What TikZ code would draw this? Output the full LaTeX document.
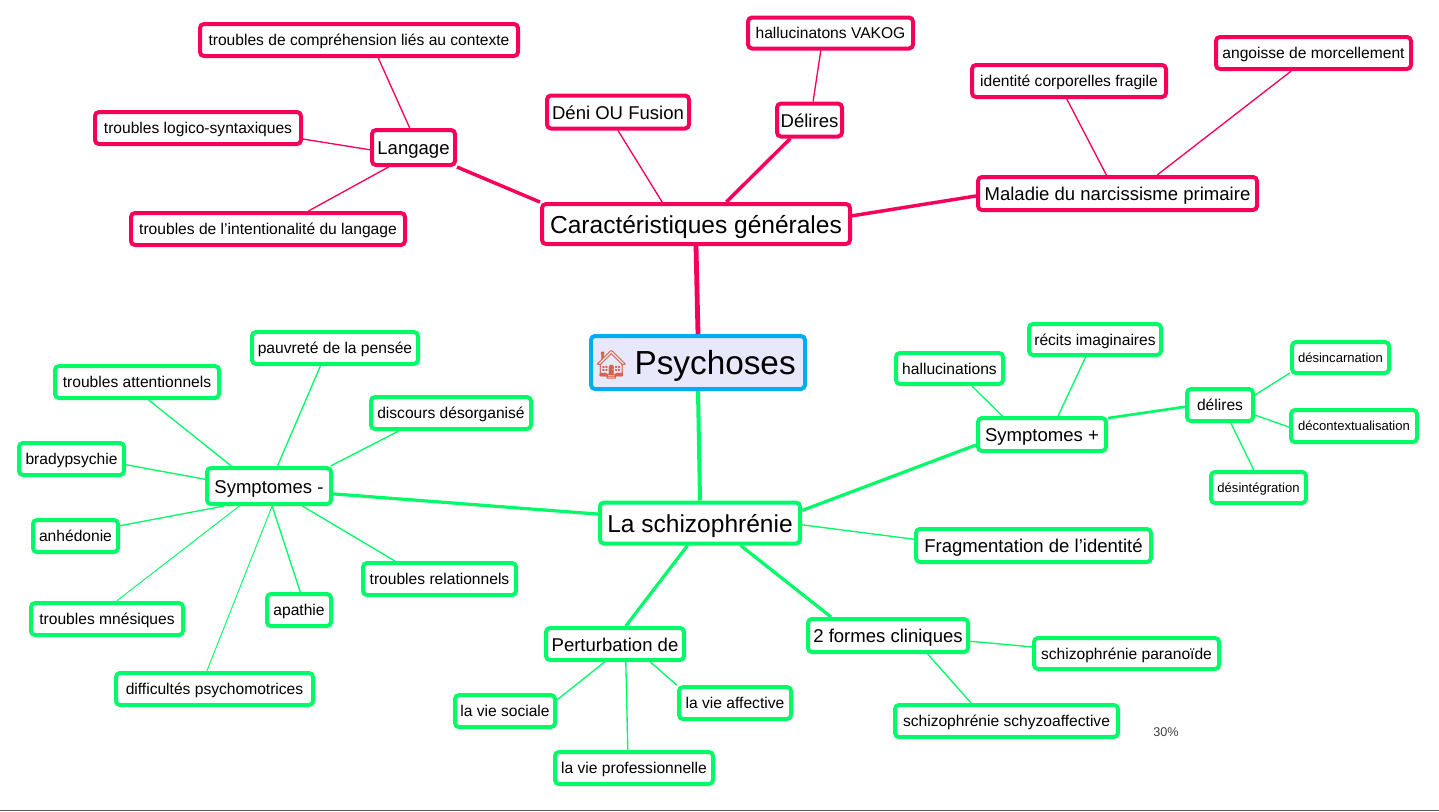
\documentclass[tikz,border=0pt]{standalone}
\usepackage{fontspec}
\setmainfont{Liberation Sans}
\newfontfamily\emojifont{Noto Emoji}
\definecolor{mapred}{HTML}{F7005C}
\definecolor{mapgreen}{HTML}{00FA68}
\definecolor{mapblue}{HTML}{00AEEF}
\definecolor{rootfill}{HTML}{E8E8FB}
\definecolor{houseroof}{HTML}{D9604C}
\tikzset{
  sized/.style 2 args={minimum width=(#1-2)*0.75pt, minimum height=(#2-2)*0.75pt},
  mapbox/.style={draw, line width=3pt, rounded corners=3pt, inner sep=0pt, text=black, font=\fontsize{11.7}{14}\selectfont, text height=9.9pt, text depth=1.2pt},
  redbox/.style={mapbox, draw=mapred},
  greenbox/.style={mapbox, draw=mapgreen},
  midtext/.style={font=\fontsize{13.9}{17}\selectfont, text height=12pt, text depth=1.4pt},
  bigtext/.style={font=\fontsize{18.4}{22}\selectfont, text height=15.6pt, text depth=1.8pt},
  tinytext/.style={font=\fontsize{9.8}{12}\selectfont, text height=8.3pt, text depth=1pt},
  thinred/.style={mapred, line width=1pt},
  midred/.style={mapred, line width=2.6pt},
  thingreen/.style={mapgreen, line width=1pt},
  midgreen/.style={mapgreen, line width=2.4pt},
}
\begin{document}
\begin{tikzpicture}[x=0.75pt, y=-0.75pt]
    \useasboundingbox (0,0) rectangle (1439,811);

    % Root of the map
    \node[mapbox, draw=mapblue, fill=rootfill, sized={216}{55}, font=\fontsize{25}{30}\selectfont, text height=21pt, text depth=2.5pt] (psy) at (698,362.5) {{\emojifont\fontsize{21}{25}\selectfont\textcolor{houseroof}{\symbol{"1F3E0}}}\kern4pt Psychoses\kern5pt};

    % Upper branch (red)
    \node[redbox, sized={310}{42}, bigtext] (cara) at (696,224) {Caractéristiques générales};
    \node[redbox, sized={85}{37}, midtext] (lang) at (413.5,147.5) {Langage};
    \node[redbox, sized={320}{34}] (comp) at (359,40) {troubles de compréhension liés au contexte};
    \node[redbox, sized={208}{34}] (logi) at (198,128) {troubles logico-syntaxiques};
    \node[redbox, sized={276}{34}] (inte) at (268,229) {troubles de l’intentionalité du langage};
    \node[redbox, sized={144}{35}, midtext] (deni) at (618,112) {Déni OU Fusion};
    \node[redbox, sized={67}{35}, midtext] (deli) at (809.5,120) {Délires};
    \node[redbox, sized={167}{33}] (vako) at (830.5,33) {hallucinatons VAKOG};
    \node[redbox, sized={281}{35}, midtext] (narc) at (1117.5,193.5) {Maladie du narcissisme primaire};
    \node[redbox, sized={196}{34}] (iden) at (1069,81) {identité corporelles fragile};
    \node[redbox, sized={197}{34}] (ango) at (1313.5,53) {angoisse de morcellement};

    % Lower branch (green)
    \node[greenbox, sized={202}{43}, bigtext] (schi) at (700,523) {La schizophrénie};
    \node[greenbox, sized={126}{38}, midtext] (sneg) at (269,486) {Symptomes -};
    \node[greenbox, sized={130}{35}, midtext] (spos) at (1042,434.5) {Symptomes +};
    \node[greenbox, sized={68}{34}] (dgre) at (1220,405) {délires};
    \node[greenbox, sized={134}{33}] (reci) at (1095,339.5) {récits imaginaires};
    \node[greenbox, sized={109}{33}] (hall) at (949.5,368.5) {hallucinations};
    \node[greenbox, sized={99}{33}, tinytext] (dinc) at (1340.5,357.5) {désincarnation};
    \node[greenbox, sized={128}{34}, tinytext] (dcon) at (1354,426) {décontextualisation};
    \node[greenbox, sized={97}{33}, tinytext] (dint) at (1258.5,487.5) {désintégration};
    \node[greenbox, sized={237}{35}, midtext] (frag) at (1033.5,545.5) {Fragmentation de l’identité};
    \node[greenbox, sized={162}{35}, midtext] (form) at (888,635.5) {2 formes cliniques};
    \node[greenbox, sized={187}{33}] (para) at (1126.5,653.5) {schizophrénie paranoïde};
    \node[greenbox, sized={225}{34}] (schy) at (1006.5,721) {schizophrénie schyzoaffective};
    \node[greenbox, sized={140}{34}, midtext] (pert) at (615,644) {Perturbation de};
    \node[greenbox, sized={102}{34}] (soci) at (505,711) {la vie sociale};
    \node[greenbox, sized={114}{34}] (affe) at (735,703) {la vie affective};
    \node[greenbox, sized={160}{34}] (prof) at (634,768) {la vie professionnelle};
    \node[greenbox, sized={168}{34}] (pauv) at (335,348) {pauvreté de la pensée};
    \node[greenbox, sized={166}{34}] (atte) at (137,382) {troubles attentionnels};
    \node[greenbox, sized={162}{34}] (disc) at (451,413) {discours désorganisé};
    \node[greenbox, sized={107}{34}] (brad) at (71.5,459) {bradypsychie};
    \node[greenbox, sized={87}{34}] (anhe) at (75.5,536) {anhédonie};
    \node[greenbox, sized={154}{34}] (mnes) at (107,619) {troubles mnésiques};
    \node[greenbox, sized={199}{34}] (diff) at (214.5,689) {difficultés psychomotrices};
    \node[greenbox, sized={66}{34}] (apat) at (299,610) {apathie};
    \node[greenbox, sized={155}{34}] (rela) at (439.5,579) {troubles relationnels};

    % Percentage note
    \node[text=black!75, font=\fontsize{9.5}{12}\selectfont] (note) at (1166,732) {30\%};

    % Red connectors
    \draw[mapred, line width=3.6pt] (cara.south) -- (psy.north);
    \draw[midred] (cara.172) -- (lang.south east);
    \draw[thinred] (lang.101) -- (comp.-43);
    \draw[thinred] (lang.183) -- (logi.-6.6);
    \draw[thinred] (lang.218) -- (inte.24.7);
    \draw[thinred] (cara.147.5) -- (deni.south);
    \draw[midred] (cara.36) -- (deli.-136);
    \draw[thinred] (deli.79) -- (vako.-119.5);
    \draw[midred] (cara.3.3) -- (narc.181.4);
    \draw[thinred] (narc.121) -- (iden.-97);
    \draw[thinred] (narc.25) -- (ango.-141.7);

    % Green connectors
    \draw[mapgreen, line width=3pt] (psy.south) -- (schi.north);
    \draw[midgreen] (schi.175) -- (sneg.-7.2);
    \draw[midgreen] (schi.7.3) -- (spos.189);
    \draw[midgreen, line width=2pt] (spos.14.2) -- (dgre.183.4);
    \draw[thingreen] (spos.49.4) -- (reci.-118.6);
    \draw[thingreen] (spos.155.8) -- (hall.-38.8);
    \draw[thingreen] (dgre.16.4) -- (dinc.197.4);
    \draw[thingreen] (dgre.-16.4) -- (dcon.181.8);
    \draw[thingreen] (dgre.-59.5) -- (dint.105);
    \draw[thingreen] (schi.-1.7) -- (frag.177.3);
    \draw[midgreen] (schi.-29.6) -- (form.162.3);
    \draw[thingreen] (form.-4.6) -- (para.176.6);
    \draw[thingreen] (form.-25.3) -- (schy.153.8);
    \draw[midgreen] (schi.-119.7) -- (pert.59.5);
    \draw[thingreen] (pert.-120.5) -- (soci.12.9);
    \draw[thingreen] (pert.-27.3) -- (affe.163.4);
    \draw[thingreen] (pert.-59.5) -- (prof.109.4);
    \draw[thingreen] (sneg.67.2) -- (pauv.-129.5);
    \draw[thingreen] (sneg.152.8) -- (atte.-57);
    \draw[thingreen] (sneg.18.7) -- (disc.-161.6);
    \draw[thingreen] (sneg.174.6) -- (brad.-6.4);
    \draw[thingreen] (sneg.-156.6) -- (anhe.13);
    \draw[thingreen, line width=0.7pt] (sneg.-146.8) -- (mnes.62);
    \draw[thingreen, line width=0.7pt] (sneg.-81) -- (diff.113.8);
    \draw[thingreen] (sneg.-81) -- (apat.86.6);
    \draw[thingreen] (sneg.-31.5) -- (rela.158.7);

    % Rule along the bottom edge
    \draw[black!65, line width=0.8pt] (0,810.5) -- (1439,810.5);
\end{tikzpicture}
\end{document}
